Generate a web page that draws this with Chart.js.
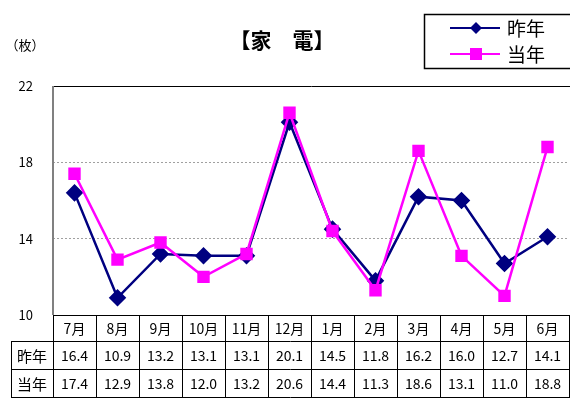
<!DOCTYPE html>
<html>
<head>
<meta charset="utf-8">
<script src="https://cdn.jsdelivr.net/npm/chart.js"></script>
<style>
  body { margin: 0; background: #fff; }
  #wrap { width: 570px; height: 400px; position: relative; }
</style>
</head>
<body>
<div id="wrap"><canvas id="c" width="570" height="400"></canvas></div>
<script>
// データ
const months = ["7月", "8月", "9月", "10月", "11月", "12月", "1月", "2月", "3月", "4月", "5月", "6月"];
const lastYear = [16.4, 10.9, 13.2, 13.1, 13.1, 20.1, 14.5, 11.8, 16.2, 16.0, 12.7, 14.1];
const thisYear = [17.4, 12.9, 13.8, 12.0, 13.2, 20.6, 14.4, 11.3, 18.6, 13.1, 11.0, 18.8];
const yTicks = [10, 14, 18, 22];

const FONT = '"Noto Sans CJK JP", "Noto Sans", sans-serif';

// タイトル・凡例・データ表を描くプラグイン
const tablePlugin = {
  id: "table",
  afterDraw(chart) {
    const ctx = chart.ctx;
    const area = chart.chartArea;
    const xs = chart.scales.x;
    const colW = (area.right - area.left) / months.length;
    const rowH = [26, 28, 28];
    const top = area.bottom;
    const labelLeft = 11;

    ctx.save();
    // 上端の線
    ctx.strokeStyle = "#000";
    ctx.lineWidth = 1;
    ctx.beginPath();
    ctx.moveTo(area.left, area.top + 0.5);
    ctx.lineTo(570, area.top + 0.5);
    ctx.stroke();
    // 左の軸
    ctx.strokeStyle = "#808080";
    ctx.lineWidth = 2;
    ctx.beginPath();
    ctx.moveTo(area.left, area.top);
    ctx.lineTo(area.left, top);
    ctx.stroke();

    // 表の枠
    ctx.strokeStyle = "#000";
    ctx.lineWidth = 1;
    const y1 = top, y2 = top + rowH[0], y3 = y2 + rowH[1], y4 = y3 + rowH[2];
    ctx.beginPath();
    ctx.moveTo(area.left, y1 + 0.5); ctx.lineTo(570, y1 + 0.5);
    ctx.moveTo(labelLeft, y2 + 0.5); ctx.lineTo(570, y2 + 0.5);
    ctx.moveTo(labelLeft, y3 + 0.5); ctx.lineTo(570, y3 + 0.5);
    ctx.moveTo(labelLeft, y4 + 0.5); ctx.lineTo(570, y4 + 0.5);
    ctx.moveTo(labelLeft + 0.5, y2); ctx.lineTo(labelLeft + 0.5, y4);
    for (let i = 0; i <= months.length; i++) {
      const x = Math.round(area.left + i * colW) + 0.5;
      ctx.moveTo(x, y1); ctx.lineTo(x, y4);
    }
    ctx.stroke();

    ctx.fillStyle = "#000";
    ctx.textAlign = "center";
    ctx.textBaseline = "middle";
    ctx.font = "14px " + FONT;
    months.forEach((m, i) => {
      const cx = xs.getPixelForValue(i);
      ctx.fillText(m, cx, y1 + rowH[0] / 2 + 1);
      ctx.fillText(lastYear[i].toFixed(1), cx, y2 + rowH[1] / 2 + 1);
      ctx.fillText(thisYear[i].toFixed(1), cx, y3 + rowH[2] / 2 + 1);
    });
    ctx.font = "15px " + FONT;
    const lx = (labelLeft + area.left) / 2;
    ctx.fillText("昨年", lx, y2 + rowH[1] / 2 + 1);
    ctx.fillText("当年", lx, y3 + rowH[2] / 2 + 1);

    // 単位とタイトル
    ctx.font = "13px " + FONT;
    ctx.fillText("（枚）", 25, 45);
    ctx.font = "bold 21px " + FONT;
    ctx.fillText("【家　電】", 282, 40);

    // 凡例
    ctx.strokeStyle = "#000";
    ctx.lineWidth = 1.5;
    ctx.strokeRect(424.5, 14.5, 160, 54);
    const items = [
      { label: "昨年", color: "#000080", shape: "diamond", y: 28 },
      { label: "当年", color: "#ff00ff", shape: "square", y: 54 }
    ];
    items.forEach(it => {
      ctx.strokeStyle = it.color;
      ctx.lineWidth = 2;
      ctx.beginPath();
      ctx.moveTo(450, it.y); ctx.lineTo(500, it.y);
      ctx.stroke();
      ctx.fillStyle = it.color;
      ctx.beginPath();
      if (it.shape === "diamond") {
        ctx.moveTo(476, it.y - 6); ctx.lineTo(482, it.y);
        ctx.lineTo(476, it.y + 6); ctx.lineTo(470, it.y);
        ctx.closePath();
      } else {
        ctx.rect(470, it.y - 6, 12, 12);
      }
      ctx.fill();
      ctx.fillStyle = "#000";
      ctx.textAlign = "left";
      ctx.font = "19px " + FONT;
      ctx.fillText(it.label, 507, it.y + 1);
    });
    ctx.restore();
  }
};

new Chart(document.getElementById("c"), {
  type: "line",
  data: {
    labels: months,
    datasets: [
      {
        label: "当年",
        data: thisYear,
        borderColor: "#ff00ff",
        backgroundColor: "#ff00ff",
        borderWidth: 2.5,
        pointStyle: "rect",
        pointRadius: 7,
        pointHoverRadius: 7,
        tension: 0,
        order: 0
      },
      {
        label: "昨年",
        data: lastYear,
        borderColor: "#000080",
        backgroundColor: "#000080",
        borderWidth: 2.5,
        pointStyle: "rectRot",
        pointRadius: 7,
        pointHoverRadius: 7,
        tension: 0,
        order: 1
      }
    ]
  },
  options: {
    responsive: false,
    animation: false,
    layout: { autoPadding: false, padding: { top: 86, right: 1, bottom: 85, left: 0 } },
    plugins: {
      legend: { display: false },
      title: { display: false },
      tooltip: { enabled: false }
    },
    scales: {
      x: {
        offset: true,
        grid: { display: false, drawTicks: false },
        border: { display: false },
        ticks: { display: false },
        afterFit(scale) { scale.height = 0; }
      },
      y: {
        min: 10,
        max: 22,
        afterBuildTicks(scale) { scale.ticks = yTicks.map(v => ({ value: v })); },
        afterFit(scale) { scale.width = 53; },
        border: { display: false, dash: [2, 2] },
        grid: {
          color: ctx => (ctx.tick.value === 14 || ctx.tick.value === 18) ? "#a0a0a0" : "rgba(0,0,0,0)",
          lineWidth: 1,
          drawTicks: false
        },
        ticks: {
          color: "#000",
          padding: 20,
          font: { size: 13, family: FONT }
        }
      }
    }
  },
  plugins: [tablePlugin]
});
</script>
</body>
</html>
